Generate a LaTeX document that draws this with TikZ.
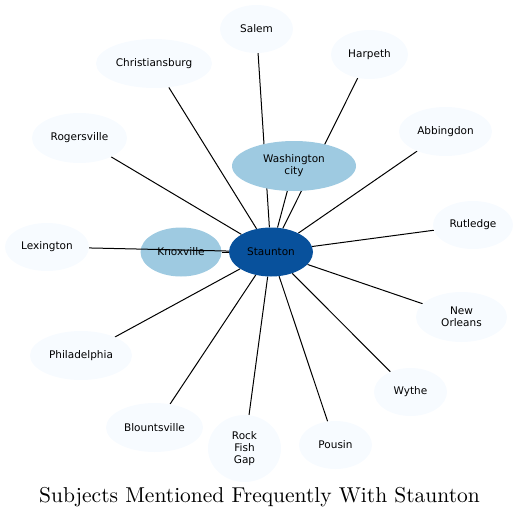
\documentclass[tikz,border=0pt]{standalone}
\usepackage{fontspec}
\newfontfamily\placefont{DejaVu Sans}
\newfontfamily\titlefont{lmroman10-regular.otf}
\usetikzlibrary{shapes.geometric, backgrounds}
\definecolor{outerblue}{HTML}{F7FBFF}
\definecolor{midblue}{HTML}{9ECAE1}
\definecolor{darkblue}{HTML}{08519C}

\begin{document}
\begin{tikzpicture}[x=1pt, y=-1pt,
  place/.style={ellipse, fill=outerblue, inner sep=0pt,
    font=\placefont\fontsize{10.5}{12}\selectfont, align=center},
  link/.style={line width=1pt}
]
  \useasboundingbox (0,0) rectangle (519,517);

  % Center and close places
  \node[place, fill=darkblue, minimum width=84, minimum height=49] (staunton) at (271,252) {Staunton};
  \node[place, fill=midblue, minimum width=81, minimum height=49] (knox) at (181,252) {Knoxville};
  \node[place, fill=midblue, minimum width=124, minimum height=50] (wash) at (294,166) {Washington\\city};

  % Outer places
  \node[place, minimum width=73, minimum height=48] (salem) at (256.5,29) {Salem};
  \node[place, minimum width=116, minimum height=49] (christ) at (154,63.5) {Christiansburg};
  \node[place, minimum width=77, minimum height=49] (harpeth) at (369.5,54.5) {Harpeth};
  \node[place, minimum width=95, minimum height=50] (roger) at (79.5,138) {Rogersville};
  \node[place, minimum width=93, minimum height=49] (abbing) at (445.5,131.5) {Abbingdon};
  \node[place, minimum width=84, minimum height=48] (lex) at (47,247) {Lexington};
  \node[place, minimum width=80, minimum height=48] (rutledge) at (473,225) {Rutledge};
  \node[place, minimum width=91, minimum height=50] (neworl) at (461.5,317) {New\\Orleans};
  \node[place, minimum width=102, minimum height=49] (phila) at (81,355.5) {Philadelphia};
  \node[place, minimum width=73, minimum height=48] (wythe) at (410.5,392) {Wythe};
  \node[place, minimum width=97, minimum height=49] (blount) at (154.5,427.5) {Blountsville};
  \node[place, minimum width=73, minimum height=67] (rockfish) at (244.5,448.5) {Rock\\Fish\\Gap};
  \node[place, minimum width=73, minimum height=48] (pousin) at (335.5,445) {Pousin};

  % Links (behind the places)
  \begin{scope}[on background layer]
    \foreach \p in {knox,wash,salem,christ,harpeth,roger,abbing,rutledge,
                    neworl,phila,wythe,blount,rockfish,pousin} {
      \draw[link] (staunton) -- (\p);
    }
  \end{scope}
  \draw[link] (lex) -- (staunton);

  % Title
  \node[anchor=base, font=\titlefont\fontsize{21.5}{24}\selectfont] (title) at (259.5,502)
    {Subjects Mentioned Frequently With Staunton};
\end{tikzpicture}
\end{document}
